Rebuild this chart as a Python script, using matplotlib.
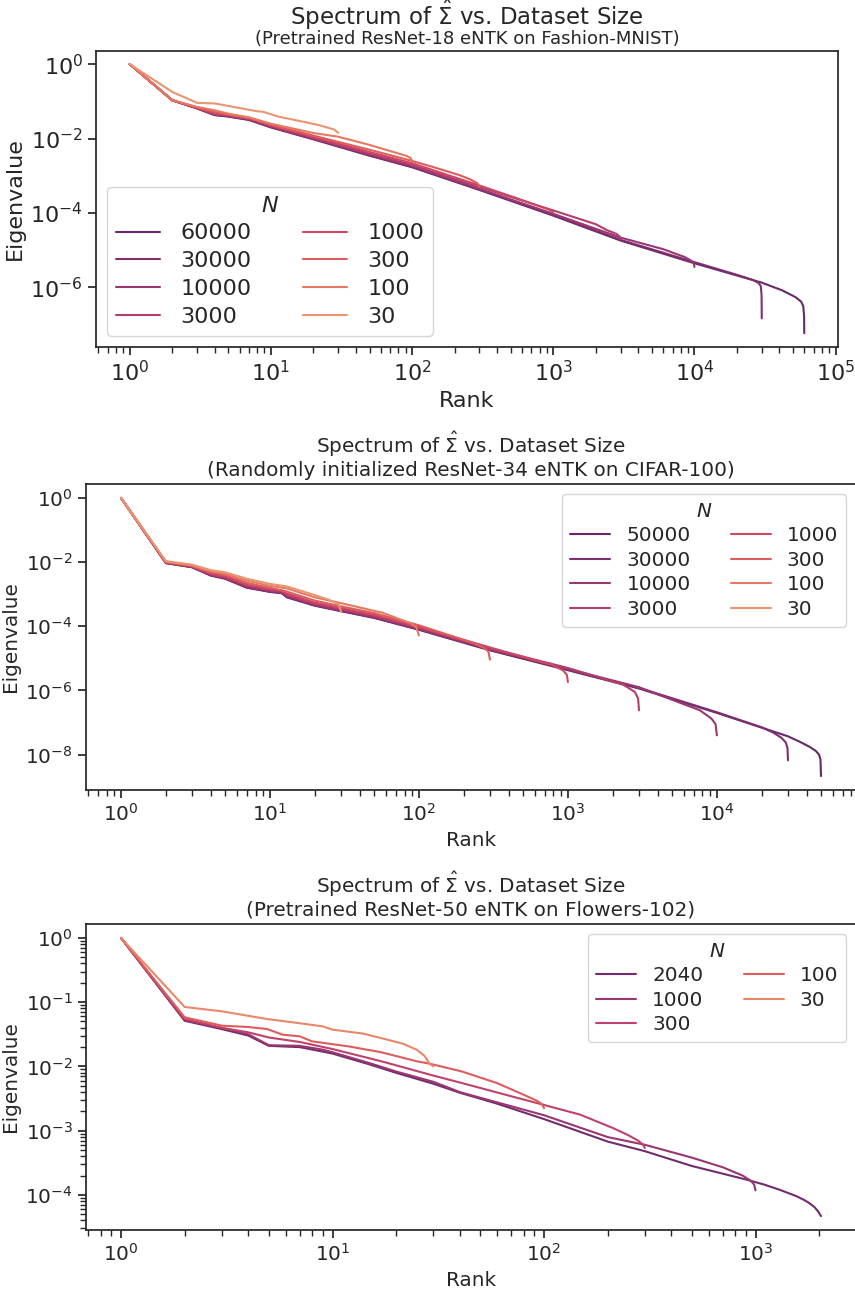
import matplotlib
matplotlib.use("Agg")
import matplotlib.pyplot as plt
import numpy as np
import seaborn as sns

sns.set_theme(style="ticks", context="notebook")
plt.rcParams['font.family'] = ['DejaVu Sans']
plt.rcParams['mathtext.fontset'] = 'dejavusans'

# ---- Fashion-MNIST, pretrained ResNet-18 (log10 of eigenvalue)
fm_sizes = [60000, 30000, 10000, 3000, 1000, 300, 100, 30]
fm_ranks = [
    [1, 2, 3, 4, 5, 7, 10, 20, 50, 100, 300, 1000, 3000, 10000, 30000, 42000, 52000, 57000, 59000, 59800, 60000],
    [1, 2, 3, 4, 5, 7, 10, 20, 50, 100, 300, 1000, 3000, 10000, 20000, 26000, 28500, 29500, 29900, 30000],
    [1, 2, 3, 4, 5, 7, 10, 20, 50, 100, 300, 1000, 3000, 6000, 8500, 9500, 9900, 10000],
    [1, 2, 3, 4, 5, 7, 10, 20, 50, 100, 300, 1000, 2000, 2400, 2800, 2950, 3000],
    [1, 2, 3, 4, 5, 7, 10, 20, 50, 100, 300, 550, 800, 920, 980, 1000],
    [1, 2, 3, 4, 5, 7, 10, 20, 50, 100, 140, 216, 260, 290, 300],
    [1, 2, 3, 4, 5, 7, 10, 20, 30, 50, 80, 92, 98, 100],
    [1, 2, 3, 4, 5.4, 7.9, 8.8, 11.5, 15, 22, 28, 30],
]
fm_log_eig = [
    [0, -0.97, -1.19, -1.37, -1.41, -1.50, -1.70, -2.02, -2.46, -2.77, -3.38, -4.07, -4.74, -5.35, -5.87, -6.08, -6.26, -6.38, -6.50, -6.75, -7.23],
    [0, -0.97, -1.19, -1.36, -1.40, -1.49, -1.69, -2.01, -2.45, -2.76, -3.37, -4.05, -4.72, -5.32, -5.66, -5.80, -5.88, -5.96, -6.20, -6.83],
    [0, -0.97, -1.18, -1.35, -1.39, -1.48, -1.68, -2.00, -2.43, -2.74, -3.35, -4.02, -4.66, -4.97, -5.18, -5.28, -5.36, -5.45],
    [0, -0.97, -1.18, -1.34, -1.38, -1.47, -1.66, -1.98, -2.40, -2.71, -3.30, -3.93, -4.30, -4.46, -4.56, -4.63, -4.70],
    [0, -0.97, -1.17, -1.32, -1.37, -1.46, -1.64, -1.95, -2.36, -2.66, -3.26, -3.60, -3.82, -3.90, -3.95, -4.00],
    [0, -0.97, -1.16, -1.28, -1.35, -1.44, -1.62, -1.92, -2.30, -2.60, -2.76, -2.98, -3.10, -3.20, -3.30],
    [0, -0.97, -1.15, -1.24, -1.33, -1.43, -1.60, -1.85, -1.95, -2.17, -2.40, -2.47, -2.53, -2.60],
    [0, -0.745, -1.04, -1.056, -1.147, -1.263, -1.28, -1.416, -1.505, -1.64, -1.755, -1.846],
]

# ---- CIFAR-100, randomly initialized ResNet-34
cf_sizes = [50000, 30000, 10000, 3000, 1000, 300, 100, 30]
cf_ranks = [
    [1, 2, 3, 4, 5, 7, 10, 12, 13, 20, 30, 50, 100, 300, 1000, 3000, 10000, 30000, 36000, 42000, 46000, 48500, 49600, 50000],
    [1, 2, 3, 4, 5, 7, 10, 12, 13, 20, 30, 50, 100, 300, 1000, 3000, 10000, 20000, 24000, 27000, 29000, 29800, 30000],
    [1, 2, 3, 4, 5, 7, 10, 12, 13, 20, 30, 50, 100, 300, 1000, 3000, 7700, 9200, 9800, 10000],
    [1, 2, 3, 4, 5, 7, 10, 12, 13, 20, 30, 50, 100, 300, 1000, 2350, 2820, 2960, 3000],
    [1, 2, 3, 4, 5, 7, 10, 12, 13, 20, 30, 50, 100, 300, 800, 930, 985, 1000],
    [1, 2, 3, 4, 5, 7, 10, 13, 20, 30, 50, 100, 230, 270, 292, 300],
    [1, 2, 3, 4, 5, 7, 10, 13, 20, 30, 57, 86, 96, 100],
    [1, 2, 3, 4, 5, 7, 10, 13, 20, 25, 29, 30],
]
cf_log_eig = [
    [0, -2.03, -2.16, -2.42, -2.52, -2.80, -2.93, -2.97, -3.10, -3.36, -3.53, -3.74, -4.11, -4.75, -5.37, -5.94, -6.70, -7.43, -7.60, -7.76, -7.88, -8.00, -8.15, -8.67],
    [0, -2.03, -2.16, -2.41, -2.51, -2.79, -2.92, -2.96, -3.09, -3.35, -3.52, -3.73, -4.10, -4.74, -5.35, -5.92, -6.68, -7.15, -7.32, -7.47, -7.62, -7.80, -8.18],
    [0, -2.02, -2.15, -2.40, -2.50, -2.77, -2.90, -2.94, -3.06, -3.33, -3.50, -3.71, -4.08, -4.72, -5.33, -5.90, -6.62, -6.88, -7.05, -7.40],
    [0, -2.01, -2.14, -2.38, -2.47, -2.73, -2.87, -2.91, -3.02, -3.30, -3.47, -3.68, -4.05, -4.69, -5.30, -5.82, -6.05, -6.25, -6.62],
    [0, -2.00, -2.13, -2.35, -2.44, -2.70, -2.84, -2.88, -2.98, -3.26, -3.43, -3.64, -4.02, -4.66, -5.22, -5.38, -5.52, -5.74],
    [0, -1.99, -2.12, -2.32, -2.40, -2.65, -2.80, -2.92, -3.20, -3.38, -3.59, -3.97, -4.52, -4.66, -4.78, -5.04],
    [0, -1.99, -2.10, -2.28, -2.36, -2.58, -2.74, -2.82, -3.10, -3.28, -3.58, -3.89, -4.03, -4.29],
    [0, -1.97, -2.08, -2.25, -2.32, -2.52, -2.68, -2.76, -3.03, -3.18, -3.33, -3.55],
]

# ---- Flowers-102, pretrained ResNet-50
fl_sizes = [2040, 1000, 300, 100, 30]
fl_ranks = [
    [1, 2, 3, 4, 5, 7, 9, 10, 15, 20, 30, 40, 60, 100, 200, 300, 500, 700, 900, 1100, 1300, 1560, 1700, 1800, 1900, 1980, 2040],
    [1, 2, 3, 4, 5, 7, 9, 10, 15, 20, 30, 40, 60, 100, 200, 300, 500, 700, 870, 950, 985, 1000],
    [1, 2, 3, 4, 5, 7, 10, 17, 29, 41, 71, 100, 148, 212, 250, 280, 294, 300],
    [1, 2, 3, 4, 4.9, 5.8, 7, 8, 12, 17, 25, 29, 41, 60, 80, 92, 98, 100],
    [1, 2, 3, 4.9, 7.25, 9, 10, 14, 17, 21.5, 25, 27.3, 28.8, 30],
]
fl_log_eig = [
    [0, -1.29, -1.42, -1.52, -1.68, -1.70, -1.77, -1.80, -1.97, -2.10, -2.27, -2.41, -2.58, -2.82, -3.17, -3.32, -3.55, -3.67, -3.76, -3.84, -3.92, -4.02, -4.08, -4.13, -4.19, -4.26, -4.33],
    [0, -1.28, -1.40, -1.50, -1.67, -1.68, -1.74, -1.78, -1.95, -2.08, -2.24, -2.40, -2.56, -2.76, -3.10, -3.22, -3.42, -3.57, -3.70, -3.78, -3.84, -3.93],
    [0, -1.26, -1.40, -1.47, -1.55, -1.62, -1.73, -1.92, -2.13, -2.26, -2.47, -2.60, -2.75, -2.96, -3.07, -3.16, -3.22, -3.27],
    [0, -1.236, -1.366, -1.387, -1.418, -1.506, -1.532, -1.61, -1.69, -1.78, -1.92, -1.96, -2.08, -2.26, -2.44, -2.53, -2.59, -2.65],
    [0, -1.075, -1.143, -1.262, -1.335, -1.377, -1.428, -1.49, -1.56, -1.646, -1.74, -1.84, -1.96, -2.00],
]

title_top = "Spectrum of $\\hat{\\Sigma}$ vs. Dataset Size"
subtitles = ["(Pretrained ResNet-18 eNTK on Fashion-MNIST)",
             "(Randomly initialized ResNet-34 eNTK on CIFAR-100)",
             "(Pretrained ResNet-50 eNTK on Flowers-102)"]

W, H = 855, 1290
fig = plt.figure(figsize=(W / 100, H / 100), dpi=100)


def px_axes(left, top, right, bottom):
    return fig.add_axes([left / W, 1 - bottom / H, (right - left) / W, (bottom - top) / H])


def draw(ax, sizes, ranks, log_eig, fs, loc, spacing, colsp, textpad):
    colors = sns.color_palette("flare", len(sizes))[::-1]
    for n, r, lv, c in zip(sizes, ranks, log_eig, colors):
        ax.plot(r, 10.0 ** np.array(lv), color=c, lw=1.5, label=str(n))
    ax.set_xscale('log')
    ax.set_yscale('log')
    ax.set_xlabel("Rank", fontsize=fs)
    ax.set_ylabel("Eigenvalue", fontsize=fs)
    ax.tick_params(axis='both', which='major', labelsize=fs)
    ax.legend(title="$N$", ncol=2, loc=loc, fontsize=fs, title_fontsize=fs,
              labelspacing=spacing, columnspacing=colsp, handletextpad=textpad)


ax1 = px_axes(96, 50.7, 838, 346.7)
draw(ax1, fm_sizes, fm_ranks, fm_log_eig, 16, "lower left", 0.35, 2.3, 0.9)
ax1.set_title(subtitles[0], fontsize=13, pad=5)
fig.text(467 / W, 1 - 15 / H, title_top, ha='center', va='center', fontsize=16.5)

ax2 = px_axes(86, 484, 856, 790)
draw(ax2, cf_sizes, cf_ranks, cf_log_eig, 14.4, "upper right", 0.27, 2.0, 0.8)
ax2.set_title(title_top + "\n" + subtitles[1], fontsize=14.4)

ax3 = px_axes(86, 924, 856, 1230)
draw(ax3, fl_sizes, fl_ranks, fl_log_eig, 14.4, "upper right", 0.27, 2.0, 0.8)
ax3.set_title(title_top + "\n" + subtitles[2], fontsize=14.4)

fig.savefig("out.png", dpi=100)
